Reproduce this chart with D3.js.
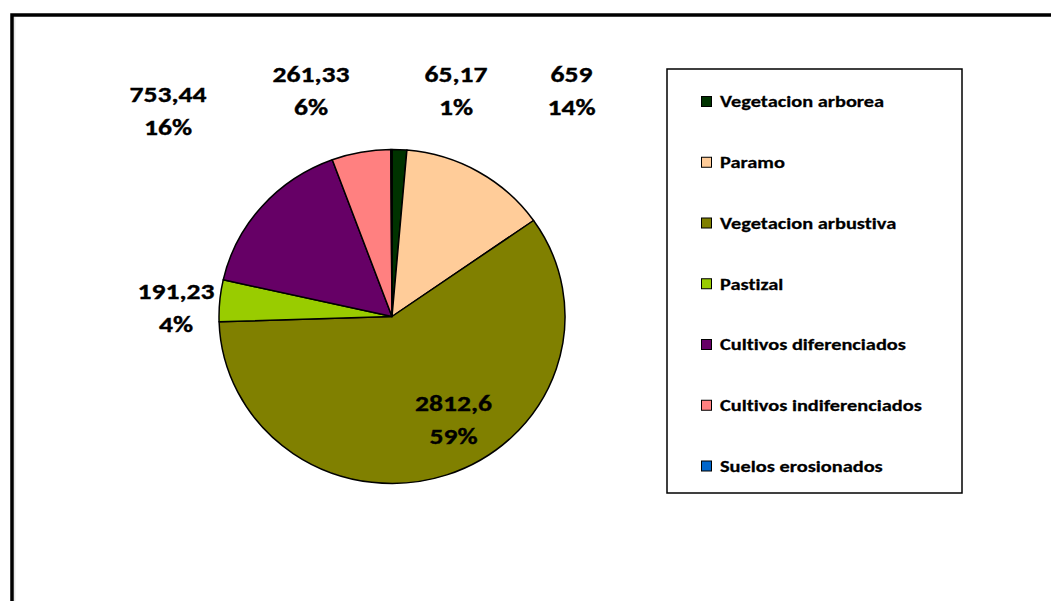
<!DOCTYPE html>
<html>
<head>
<meta charset="utf-8">
<script src="https://cdn.jsdelivr.net/npm/d3@7"></script>
<style>
  html, body { margin: 0; padding: 0; background: #fff; }
  svg { display: block; }
  text {
    font-family: Calibri, Carlito, Lato, "Open Sans", sans-serif;
    font-weight: bold; fill: #000;
    stroke: #000; stroke-width: 0.35px;
    font-variant-ligatures: none; font-feature-settings: "liga" 0;
  }
</style>
</head>
<body>
<svg id="chart" width="1051" height="601"></svg>
<script>
// Land cover categories (clockwise from 12 o'clock)
const categories = [
  "Vegetacion arborea",
  "Paramo",
  "Vegetacion arbustiva",
  "Pastizal",
  "Cultivos diferenciados",
  "Cultivos indiferenciados",
  "Suelos erosionados"
];
// Area per category
const areas = [65.17, 659, 2812.6, 191.23, 753.44, 261.33, 5];
// Which slices carry a data label (the eroded soils sliver has none)
const showLabel = [true, true, true, true, true, true, false];
// Displayed value text (decimal comma)
const valueLabels = ["65,17", "659", "2812,6", "191,23", "753,44", "261,33", ""];
const colors = ["#003300", "#FFCC99", "#808000", "#99CC00", "#660066", "#FF8080", "#0066CC"];

// Layout
const W = 1051, H = 601;
const cx = 392, cy = 316.5, rx = 173, ry = 167;
// label anchors, offsets from the pie centre (first-line baseline)
const labelSpots = [
  [64, -235],   // Vegetacion arborea
  [179.5, -235],// Paramo
  [61.5, 94],   // Vegetacion arbustiva
  [-216, -18],  // Pastizal
  [-224, -215], // Cultivos diferenciados
  [-81, -235],  // Cultivos indiferenciados
  [0, 0]
];
const lineGap = 33.5;
const labelStretch = 1.2;    // wide face: horizontal scale of the data labels
const legendStretch = 1.25;  // and of the legend entries

const svg = d3.select("#chart");
svg.append("rect").attr("width", W).attr("height", H).attr("fill", "#fff");

// chart area frame (continues past the right and bottom edges)
svg.append("path")
  .attr("d", `M12,${H + 5} L12,15 L${W + 5},15`)
  .attr("fill", "none").attr("stroke", "#000").attr("stroke-width", 3.5);
svg.append("line")
  .attr("x1", 14.8).attr("y1", 17).attr("x2", 14.8).attr("y2", H)
  .attr("stroke", "#ddd").attr("stroke-width", 1);

const data = categories.map((c, i) => ({ name: c, value: areas[i], i }));
const total = d3.sum(areas);

const pie = d3.pie().value(d => d.value).sort(null).startAngle(0).endAngle(2 * Math.PI);
const arcs = pie(data);
const arc = d3.arc().innerRadius(0).outerRadius(rx);

const g = svg.append("g")
  .attr("transform", `translate(${cx},${cy}) scale(1,${ry / rx})`);

g.selectAll("path.slice")
  .data(arcs)
  .join("path")
  .attr("class", "slice")
  .attr("d", arc)
  .attr("fill", d => colors[d.data.i])
  .attr("stroke", "#000")
  .attr("stroke-width", 1.5)
  .attr("stroke-linejoin", "round")
  .attr("vector-effect", "non-scaling-stroke");

// data labels: value and share
const fmtPct = v => Math.round(v * 100) + "%";
const labels = svg.append("g").selectAll("text.lbl")
  .data(arcs.filter(d => showLabel[d.data.i]))
  .join("text")
  .attr("class", "lbl")
  .attr("text-anchor", "middle")
  .style("font-size", "23px")
  .attr("transform", d => `translate(${cx + labelSpots[d.data.i][0]},${cy + labelSpots[d.data.i][1]}) scale(${labelStretch},1)`);
labels.append("tspan").attr("x", 0).attr("y", 0).text(d => valueLabels[d.data.i]);
labels.append("tspan").attr("x", 0).attr("y", lineGap).text(d => fmtPct(d.data.value / total));

// legend
const lgX = 667, lgY = 69, lgW = 295, lgH = 424;
svg.append("rect")
  .attr("x", lgX).attr("y", lgY).attr("width", lgW).attr("height", lgH)
  .attr("fill", "#fff").attr("stroke", "#000").attr("stroke-width", 1.5);

const legendY = d3.scalePoint().domain(categories).range([101.5, 466]);
const items = svg.append("g").selectAll("g.item")
  .data(categories)
  .join("g")
  .attr("class", "item")
  .attr("transform", d => `translate(701,${legendY(d)})`);
items.append("rect")
  .attr("x", 0.5).attr("y", -5).attr("width", 10).attr("height", 10)
  .attr("fill", (d, i) => colors[i])
  .attr("stroke", "#000").attr("stroke-width", 1);
items.append("text")
  .attr("transform", `translate(19,5.8) scale(${legendStretch},1)`)
  .style("font-size", "16.3px")
  .style("stroke-width", "0.25px")
  .text(d => d);
</script>
</body>
</html>
